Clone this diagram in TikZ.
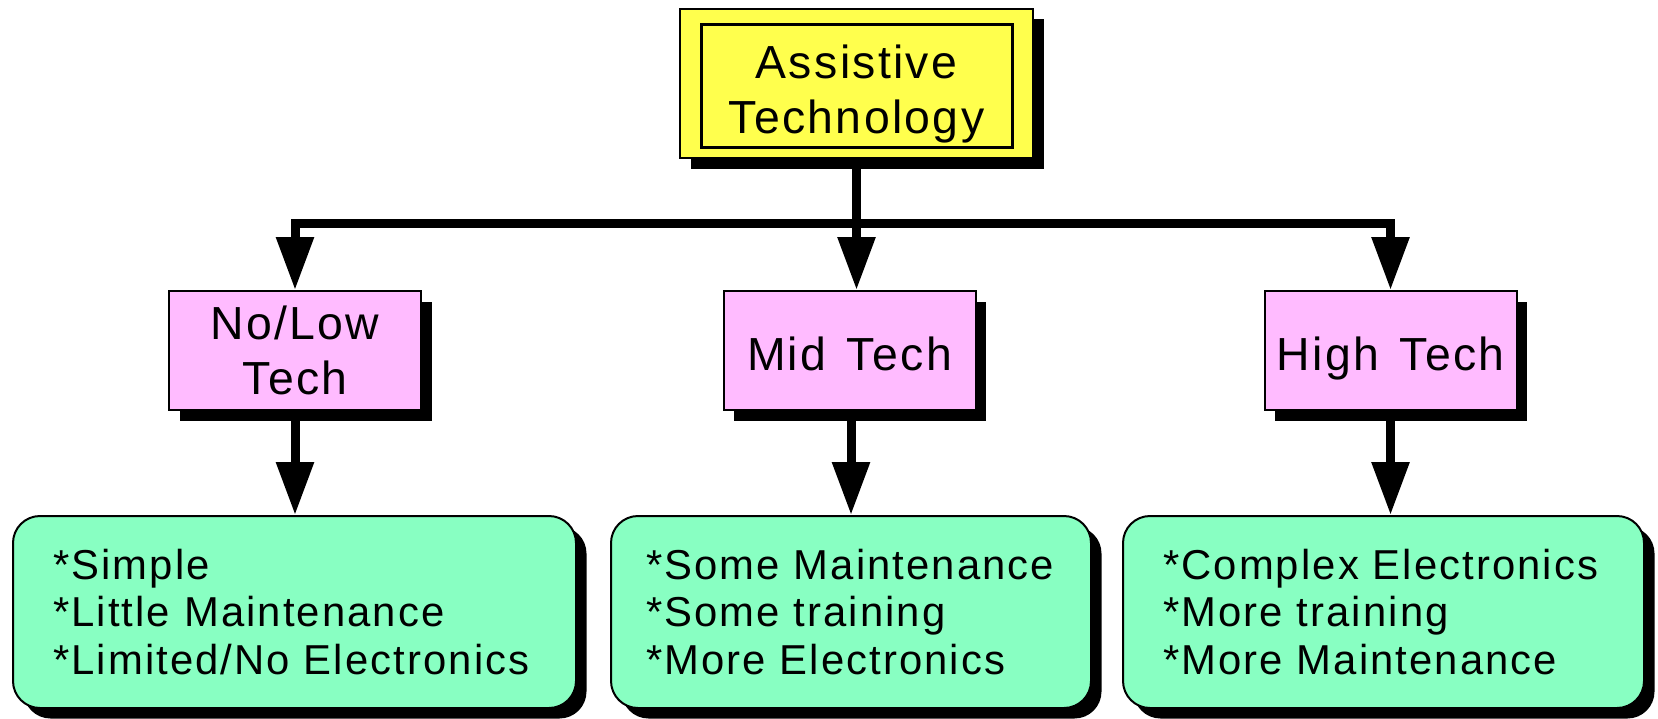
\documentclass[tikz,border=0pt]{standalone}
\usepackage{fontspec}
\setmainfont{Liberation Sans}[LetterSpace=5, WordSpace=1.35]
\usetikzlibrary{arrows.meta,shadows}

\definecolor{techyellow}{RGB}{255,255,77}
\definecolor{techpink}{RGB}{255,187,255}
\definecolor{techgreen}{RGB}{136,255,194}

\tikzset{
	boxshadow/.style={drop shadow={shadow xshift=1.05mm, shadow yshift=-1.05mm, fill=black, opacity=1}},
	rootbox/.style={draw, line width=0.2mm, fill=techyellow, boxshadow, minimum width=3.53cm, minimum height=1.49cm, inner sep=0pt, align=center, font=\fontsize{13.2}{15.5}\selectfont},
	levelbox/.style={draw, line width=0.2mm, fill=techpink, boxshadow, minimum width=2.52cm, minimum height=1.19cm, inner sep=0pt, align=center, font=\fontsize{13.2}{15.8}\selectfont},
	oneline/.style={text height=0.4cm, text depth=0cm},
	listbox/.style={draw, line width=0.2mm, fill=techgreen, boxshadow, rounded corners=0.27cm, text width=#1, inner xsep=0.4cm, minimum height=1.92cm, align=left, font=\fontsize{11.9}{13.5}\selectfont},
	link/.style={line width=0.9mm, line join=miter},
	linkarrow/.style={link, -{Triangle[length=5.3mm, width=3.6mm]}}
}

\begin{document}
\begin{tikzpicture}
			%%%%% START %%%%%
			\useasboundingbox (0, 0) rectangle (16.58, 7.18);
			
			% root with its inner frame
			\node[rootbox] (root) at (8.565, 6.345) {\rule{0pt}{0.55cm}Assistive\\Technology};
			\draw[line width=0.3mm] ([shift={(0.22,-0.16)}]root.north west) rectangle ([shift={(-0.22,0.12)}]root.south east);
			
			% the three levels
			\node[levelbox] (low) at (2.95, 3.675) {No/Low\\Tech};
			\node[levelbox, oneline] (mid) at (8.495, 3.675) {Mid Tech};
			\node[levelbox, oneline] (high) at (13.905, 3.675) {High Tech};
			
			% what each level means
			\node[listbox=4.83cm] (lowlist) at (2.945, 1.06) {*Simple\\{*}Little Maintenance\\{*}Limited/No Electronics};
			\node[listbox=4.10cm, inner xsep=0.35cm] (midlist) at (8.51, 1.06) {*Some Maintenance\\{*}Some training\\{*}More Electronics};
			\node[listbox=4.41cm] (highlist) at (13.835, 1.06) {*Complex Electronics\\{*}More training\\{*}More Maintenance};
			
			% fork under the root
			\coordinate (fork) at (root.south |- 0, 4.95);
			\draw[link] (root.south) -- (fork);
			\draw[linkarrow] (fork) -| (low.north);
			\draw[linkarrow] (fork) -- (root.south |- mid.north);
			\draw[linkarrow] (fork) -| (high.north);
			
			\draw[linkarrow] (low.south) -- (low.south |- lowlist.north);
			\draw[linkarrow] (midlist.north |- mid.south) -- (midlist.north);
			\draw[linkarrow] (high.south) -- (high.south |- highlist.north);
			
			%%%%% END %%%%%
\end{tikzpicture}
\end{document}
